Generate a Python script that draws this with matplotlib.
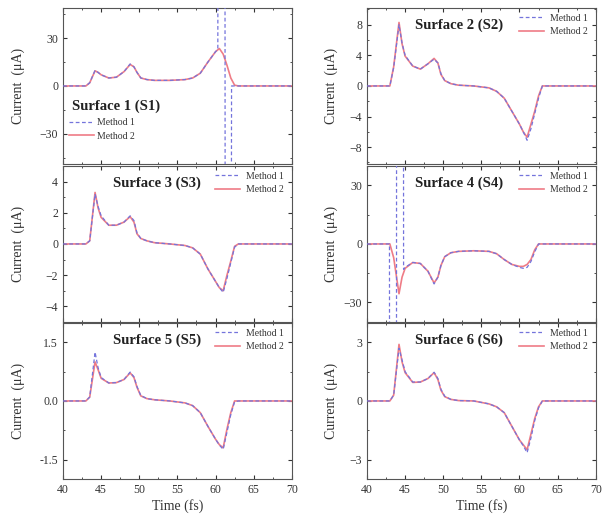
import matplotlib
matplotlib.use('Agg')
import matplotlib.pyplot as plt
from matplotlib.ticker import MultipleLocator, FormatStrFormatter

plt.rcParams['font.family'] = ['Liberation Serif', 'DejaVu Serif']

# time grid (fs) shared by most curves
time = [40, 43, 43.5, 44.2, 44.6, 45, 46, 47, 48, 48.8, 49.3, 49.7, 50.2, 51, 52,
        54, 56, 57, 58, 59, 60, 60.5, 61, 61.5, 62, 62.5, 63, 70]

# Surface 1 -- method 1 blows up near 61 fs, so it has its own time points
s1_m2 = [0, 0, 2, 9.5, 8.5, 7, 5, 5.5, 9, 13.5, 12, 8.5, 5, 4, 3.5,
         3.5, 4, 5, 8, 15, 21.5, 23.5, 20, 13, 5, 0.5, 0, 0]
s1_t1 = [40, 43, 43.5, 44.2, 44.6, 45, 46, 47, 48, 48.8, 49.3, 49.7, 50.2, 51, 52,
         54, 56, 57, 58, 59, 60, 60.3, 60.4, 61.2, 61.3, 62.0, 62.1, 63, 70]
s1_m1 = [0, 0, 2, 9.8, 8.5, 7, 5, 5.5, 9, 13.8, 12, 8.5, 5, 4, 3.5,
         3.5, 4, 5, 8, 15, 21.5, 23, 400, 400, -400, -400, 0, 0, 0]

# Surface 2
s2_m2 = [0, 0, 2.5, 8.3, 5.5, 3.9, 2.6, 2.2, 2.9, 3.6, 3.0, 1.5, 0.7, 0.3, 0.1,
         0, -0.25, -0.7, -1.6, -3.3, -5.0, -6.0, -6.7, -5.0, -3.3, -1.3, 0, 0]
s2_m1 = [0, 0, 2.4, 8.0, 5.6, 4.0, 2.6, 2.2, 2.9, 3.5, 3.0, 1.6, 0.7, 0.3, 0.1,
         0, -0.25, -0.7, -1.6, -3.3, -5.0, -6.0, -7.1, -5.6, -3.6, -1.6, 0, 0]

# Surface 3
s3_m2 = [0, 0, 0.2, 3.3, 2.3, 1.7, 1.2, 1.2, 1.4, 1.75, 1.4, 0.65, 0.35, 0.2, 0.08,
         0, -0.1, -0.25, -0.65, -1.6, -2.4, -2.8, -3.0, -2.0, -1.1, -0.15, 0, 0]
s3_m1 = [0, 0, 0.2, 3.2, 2.4, 1.8, 1.2, 1.2, 1.4, 1.8, 1.5, 0.7, 0.35, 0.2, 0.08,
         0, -0.1, -0.25, -0.65, -1.6, -2.4, -2.8, -3.1, -2.2, -1.2, -0.2, 0, 0]

# Surface 4 -- method 1 blows up near 43-45 fs
s4_m2 = [0, 0, -7, -25.5, -17, -12.5, -9.5, -10, -14, -20, -17, -11, -6.5, -4.5, -3.8,
         -3.5, -3.8, -5, -8, -10.5, -11.5, -11.5, -10.5, -8, -3, 0, 0, 0]
s4_t1 = [40, 42.95, 43.0, 43.85, 43.9, 44.75, 44.8, 45, 46, 47, 48, 48.8, 49.3, 49.7,
         50.2, 51, 52, 54, 56, 57, 58, 59, 60, 60.5, 61, 61.5, 62, 62.5, 63, 70]
s4_m1 = [0, 0, -400, -400, 400, 400, -13, -12, -9.5, -10, -14, -20.5, -17, -11,
         -6.5, -4.5, -3.8, -3.5, -3.8, -5, -8, -10.5, -12, -12.5, -12, -9, -4, 0, 0, 0]

# Surface 5
s5_m2 = [0, 0, 0.1, 1.0, 0.8, 0.58, 0.46, 0.47, 0.55, 0.72, 0.6, 0.35, 0.13, 0.06, 0.03,
         0, -0.05, -0.12, -0.3, -0.65, -0.98, -1.12, -1.2, -0.72, -0.3, 0, 0, 0]
s5_m1 = [0, 0, 0.1, 1.25, 0.85, 0.6, 0.46, 0.47, 0.55, 0.74, 0.62, 0.37, 0.14, 0.06, 0.03,
         0, -0.05, -0.12, -0.3, -0.65, -0.98, -1.13, -1.24, -0.8, -0.35, -0.02, 0, 0]

# Surface 6
s6_m2 = [0, 0, 0.3, 2.9, 2.0, 1.45, 0.95, 0.97, 1.15, 1.45, 1.1, 0.55, 0.22, 0.08, 0.02,
         0, -0.15, -0.3, -0.6, -1.3, -2.0, -2.25, -2.5, -1.7, -0.9, -0.3, 0, 0]
s6_m1 = [0, 0, 0.3, 2.7, 2.1, 1.5, 0.97, 0.97, 1.15, 1.47, 1.15, 0.6, 0.24, 0.08, 0.02,
         0, -0.15, -0.3, -0.6, -1.3, -2.0, -2.3, -2.65, -1.9, -1.0, -0.35, 0, 0]

titles = ['Surface 1 (S1)', 'Surface 2 (S2)', 'Surface 3 (S3)',
          'Surface 4 (S4)', 'Surface 5 (S5)', 'Surface 6 (S6)']
ylims = [49, 10.2, 5, 40, 2, 4]
yticks = [30, 4, 2, 30, 1.5, 3]

c1 = '#7474dc'   # method 1, dashed
c2 = '#ef7c86'   # method 2, solid

fig = plt.figure(figsize=(6.02, 5.23), dpi=100)

# axes boxes (left, bottom, width, height) in figure fractions
lefts = [0.1047, 0.6096]
width = 0.380
bottoms = [0.6864, 0.3843, 0.0841]
height = 0.2985
ylabel_x = [-0.166, -0.125]

panels = [
    (time, s1_m2, s1_t1, s1_m1),
    (time, s2_m2, time, s2_m1),
    (time, s3_m2, time, s3_m1),
    (time, s4_m2, s4_t1, s4_m1),
    (time, s5_m2, time, s5_m1),
    (time, s6_m2, time, s6_m1),
]

for i, (t2, m2, t1, m1) in enumerate(panels):
    col = i % 2
    row = i // 2
    ax = fig.add_axes([lefts[col], bottoms[row], width, height])

    ax.plot(t2, m2, color=c2, lw=1.2, label='Method 2', zorder=2)
    ax.plot(t1, m1, color=c1, lw=0.9, ls=(0, (3, 2)), label='Method 1', zorder=3)

    ax.set_xlim(40, 70)
    ax.set_ylim(-ylims[i], ylims[i])
    ax.xaxis.set_major_locator(MultipleLocator(5))
    ax.xaxis.set_minor_locator(MultipleLocator(2.5))
    ax.yaxis.set_major_locator(MultipleLocator(yticks[i]))
    ax.yaxis.set_minor_locator(MultipleLocator(yticks[i] / 2))
    if i == 4:
        ax.yaxis.set_major_formatter(FormatStrFormatter('%.1f'))
    ax.tick_params(which='both', direction='in', top=True, right=True,
                   labelsize=8.5, colors='#333333')
    ax.tick_params(which='major', length=3)
    ax.tick_params(which='minor', length=1.5)
    for sp in ax.spines.values():
        sp.set_color('#555555')
        sp.set_linewidth(0.8)

    ax.set_ylabel('Current  (\u03bcA)', fontsize=10, color='#333333')
    ax.yaxis.set_label_coords(ylabel_x[col], 0.5)
    if row == 2:
        ax.set_xlabel('Time (fs)', fontsize=10, color='#333333', labelpad=2)
    else:
        ax.tick_params(labelbottom=False)

    h, l = ax.get_legend_handles_labels()
    h, l = h[::-1], l[::-1]
    if i == 0:
        ax.text(0.04, 0.37, titles[i], transform=ax.transAxes, fontsize=10.5,
                fontweight='bold', va='center', ha='left', color='#222222')
        ax.legend(h, l, loc='upper left', bbox_to_anchor=(0.0, 0.33), frameon=False,
                  fontsize=7, handlelength=2.6, labelspacing=0.45, borderaxespad=0.2,
                  handletextpad=0.3, labelcolor='#333333')
    else:
        ax.text(0.22 if col == 0 else 0.21, 0.89, titles[i], transform=ax.transAxes,
                fontsize=10.5, fontweight='bold', va='center', ha='left', color='#222222')
        ax.legend(h, l, loc='upper right', bbox_to_anchor=(0.99, 1.0), frameon=False,
                  fontsize=7, handlelength=2.6, labelspacing=0.45, borderaxespad=0.2,
                  handletextpad=0.6, labelcolor='#333333')

fig.savefig('out.png', dpi=100)
